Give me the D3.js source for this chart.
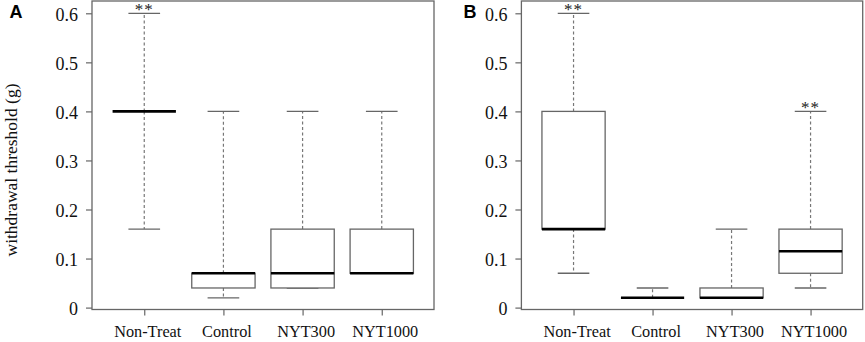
<!DOCTYPE html>
<html>
<head>
<meta charset="utf-8">
<script src="https://cdn.jsdelivr.net/npm/d3@7.9.0/dist/d3.min.js"></script>
<style>
  html, body { margin: 0; padding: 0; background: #fff; }
  svg { display: block; }
  .serif { font-family: "Liberation Serif", "Times New Roman", serif; }
</style>
</head>
<body>
<svg id="chart" width="865" height="342"></svg>
<script>
// ---- data ----
const groups = ['Non-Treat', 'Control', 'NYT300', 'NYT1000'];
const yTicks = [0, 0.1, 0.2, 0.3, 0.4, 0.5, 0.6];
const yTickLabels = ['0', '0.1', '0.2', '0.3', '0.4', '0.5', '0.6'];

// panel A
const aLow  = [0.16, 0.02, 0.04, 0.07];
const aQ1   = [0.40, 0.04, 0.04, 0.07];
const aMed  = [0.40, 0.07, 0.07, 0.07];
const aQ3   = [0.40, 0.07, 0.16, 0.16];
const aHigh = [0.60, 0.40, 0.40, 0.40];
const aStars = ['**', '', '', ''];

// panel B
const bLow  = [0.07, 0.02, 0.02, 0.04];
const bQ1   = [0.16, 0.02, 0.02, 0.07];
const bMed  = [0.16, 0.02, 0.02, 0.115];
const bQ3   = [0.40, 0.02, 0.04, 0.16];
const bHigh = [0.60, 0.04, 0.16, 0.40];
const bStars = ['**', '', '', '**'];

const svg = d3.select('#chart');
const frameCol = '#666';

function toRows(low, q1, med, q3, high, stars) {
  return groups.map((g, i) => ({
    g, i: i + 1, low: low[i], q1: q1[i], med: med[i], q3: q3[i], high: high[i], star: stars[i]
  }));
}

function drawPanel(left, right, letter, letterX, rows, withTitle) {
  const top = 1, bottom = 309.5;
  const x = d3.scaleLinear().domain([0.34, 4.66]).range([left, right]);
  const y = d3.scaleLinear().domain([0, 0.6]).range([307.6, 13.3]);
  const boxW = x(1.4) - x(1);     // half box width (0.4 units)
  const capW = boxW / 2;

  const g = svg.append('g');

  // frame
  g.append('rect')
    .attr('x', left).attr('y', top)
    .attr('width', right - left).attr('height', bottom - top)
    .attr('fill', 'none').attr('stroke', frameCol).attr('stroke-width', 1.3);

  // y axis
  const yAxis = d3.axisLeft(y).tickValues(yTicks)
    .tickFormat((d, i) => yTickLabels[i]).tickSize(6).tickPadding(8);
  const ya = g.append('g').attr('transform', `translate(${left},0)`).call(yAxis);
  ya.select('.domain').remove();
  ya.selectAll('line').attr('stroke', frameCol).attr('stroke-width', 1.2);
  ya.selectAll('text')
    .attr('class', 'serif').attr('fill', '#111')
    .style('font-size', '18px').attr('dy', '0.38em');

  // x axis
  const xAxis = d3.axisBottom(x).tickValues(rows.map(d => d.i))
    .tickFormat((d, i) => groups[i]).tickSize(6).tickPadding(0);
  const xa = g.append('g').attr('transform', `translate(0,${bottom})`).call(xAxis);
  xa.select('.domain').remove();
  xa.selectAll('line').attr('stroke', frameCol).attr('stroke-width', 1.2);
  xa.selectAll('text')
    .attr('class', 'serif').attr('fill', '#111')
    .style('font-size', '16.3px')
    .attr('dx', 3).attr('y', 27.5).attr('dy', 0);

  const box = g.append('g').selectAll('g').data(rows).join('g');

  // whiskers (dashed)
  box.append('line')
    .attr('x1', d => x(d.i)).attr('x2', d => x(d.i))
    .attr('y1', d => y(d.q3)).attr('y2', d => y(d.high))
    .attr('stroke', '#777').attr('stroke-width', 1.2).attr('stroke-dasharray', '3,2.5');
  box.append('line')
    .attr('x1', d => x(d.i)).attr('x2', d => x(d.i))
    .attr('y1', d => y(d.q1)).attr('y2', d => y(d.low))
    .attr('stroke', '#777').attr('stroke-width', 1.2).attr('stroke-dasharray', '3,2.5');

  // staples
  box.append('line')
    .attr('x1', d => x(d.i) - capW).attr('x2', d => x(d.i) + capW)
    .attr('y1', d => y(d.high)).attr('y2', d => y(d.high))
    .attr('stroke', frameCol).attr('stroke-width', 1.3);
  box.append('line')
    .attr('x1', d => x(d.i) - capW).attr('x2', d => x(d.i) + capW)
    .attr('y1', d => y(d.low)).attr('y2', d => y(d.low))
    .attr('stroke', frameCol).attr('stroke-width', 1.3);

  // boxes
  box.append('rect')
    .attr('x', d => x(d.i) - boxW).attr('width', boxW * 2)
    .attr('y', d => y(d.q3)).attr('height', d => y(d.q1) - y(d.q3))
    .attr('fill', '#fff').attr('stroke', frameCol).attr('stroke-width', 1.3);

  // medians
  box.append('line')
    .attr('x1', d => x(d.i) - boxW).attr('x2', d => x(d.i) + boxW)
    .attr('y1', d => y(d.med)).attr('y2', d => y(d.med))
    .attr('stroke', '#000').attr('stroke-width', 2.6);

  // significance marks
  box.filter(d => d.star).append('text')
    .attr('class', 'serif')
    .attr('x', d => x(d.i)).attr('y', d => y(d.high) + 1.5)
    .attr('text-anchor', 'middle')
    .style('font-size', '17px').style('letter-spacing', '1px').attr('fill', '#222')
    .text(d => d.star);

  // panel letter
  svg.append('text')
    .attr('x', letterX).attr('y', 17.5)
    .style('font-family', '"Liberation Sans", Arial, sans-serif')
    .style('font-weight', 'bold').style('font-size', '18px')
    .text(letter);

  if (withTitle) {
    svg.append('text')
      .attr('class', 'serif')
      .attr('transform', 'translate(17,170) rotate(-90)')
      .attr('text-anchor', 'middle')
      .style('font-size', '17.5px').attr('fill', '#111')
      .text('withdrawal threshold (g)');
  }
}

drawPanel(92, 434, 'A', 9.5, toRows(aLow, aQ1, aMed, aQ3, aHigh, aStars), true);
drawPanel(521.4, 862.7, 'B', 463.5, toRows(bLow, bQ1, bMed, bQ3, bHigh, bStars), false);
</script>
</body>
</html>
